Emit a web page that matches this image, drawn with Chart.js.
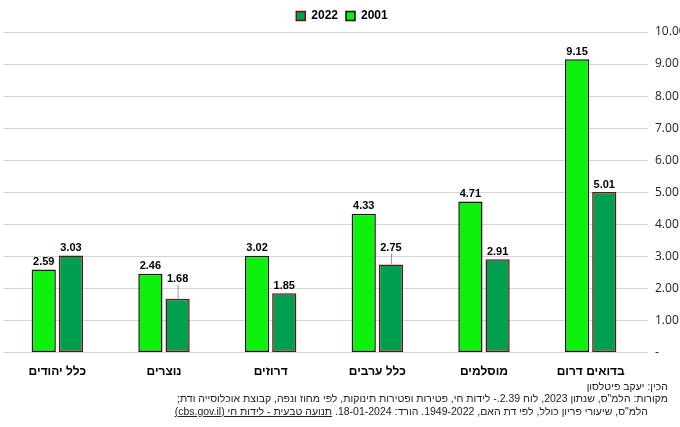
<!DOCTYPE html>
<html>
<head>
<meta charset="utf-8">
<script src="https://cdn.jsdelivr.net/npm/chart.js@4.4.1/dist/chart.umd.min.js"></script>
<style>
    html, body { margin: 0; padding: 0; background: #fff; }
    #wrap { position: relative; width: 680px; height: 427px; }
    #chart { position: absolute; left: 0; top: 0; }
    .note {
        position: absolute; direction: rtl; white-space: nowrap;
        font-family: "Liberation Sans", Arial, sans-serif; font-size: 10.5px; color: #222;
    }
    .note a { color: #222; text-decoration: underline; }
</style>
</head>
<body>
<div id="wrap">
    <canvas id="chart" width="680" height="427"></canvas>
    <div class="note" style="right:12px; top:380px;">הכין: יעקב פיטלסון</div>
    <div class="note" style="right:12px; top:392px;">מקורות: הלמ"ס, שנתון 2023, לוח 2.39.- לידות חי, פטירות ופטירות תינוקות, לפי מחוז ונפה, קבוצת אוכלוסייה ודת;</div>
    <div class="note" style="right:32px; top:405px;">הלמ"ס, שיעורי פריון כולל, לפי דת האם, 1949-2022. הורד: 18-01-2024. <a>תנועה טבעית - לידות חי (cbs.gov.il)</a></div>
</div>
<script>
const categories = ['כלל יהודים', 'נוצרים', 'דרוזים', 'כלל ערבים', 'מוסלמים', 'בדואים דרום'];
const values2001 = [2.59, 2.46, 3.02, 4.33, 4.71, 9.15];
const values2022 = [3.03, 1.68, 1.85, 2.75, 2.91, 5.01];
const yTicks = [0, 1, 2, 3, 4, 5, 6, 7, 8, 9, 10];

// labels that sit higher than their bar, with a short leader line
const liftedLabels = { '1-1': 12, '1-3': 9 };

const valueLabels = {
    id: 'valueLabels',
    afterDatasetsDraw(chart) {
        const ctx = chart.ctx;
        ctx.save();
        ctx.font = 'bold 11px "Liberation Sans", Arial, sans-serif';
        ctx.fillStyle = '#000';
        ctx.textAlign = 'center';
        ctx.textBaseline = 'bottom';
        chart.data.datasets.forEach((ds, di) => {
            chart.getDatasetMeta(di).data.forEach((bar, i) => {
                const lift = liftedLabels[di + '-' + i] || 0;
                if (lift) {
                    ctx.strokeStyle = '#999';
                    ctx.lineWidth = 1;
                    ctx.beginPath();
                    ctx.moveTo(bar.x + 0.5, bar.y);
                    ctx.lineTo(bar.x + 0.5, bar.y - lift - 2);
                    ctx.stroke();
                }
                ctx.fillText(ds.data[i].toFixed(2), bar.x, bar.y - 2 - lift);
            });
        });
        ctx.restore();
    }
};

new Chart(document.getElementById('chart'), {
    type: 'bar',
    data: {
        labels: categories,
        datasets: [
            {
                label: '2001',
                data: values2001,
                backgroundColor: '#0df20d',
                borderColor: '#111',
                borderWidth: 1.5,
                borderSkipped: false,
                categoryPercentage: 0.51,
                barPercentage: 0.89
            },
            {
                label: '2022',
                data: values2022,
                backgroundColor: '#009e4f',
                borderColor: '#6b0f0f',
                borderWidth: 1.5,
                borderSkipped: false,
                categoryPercentage: 0.51,
                barPercentage: 0.89
            }
        ]
    },
    options: {
        responsive: false,
        animation: false,
        layout: { padding: { left: 4, right: 0, top: 2, bottom: 44 } },
        plugins: {
            legend: {
                reverse: true,
                labels: {
                    boxWidth: 9,
                    boxHeight: 9,
                    padding: 8,
                    color: '#000',
                    font: { family: '"Liberation Sans", Arial, sans-serif', size: 12, weight: 'bold' }
                }
            },
            tooltip: { enabled: false }
        },
        scales: {
            x: {
                grid: { display: false },
                border: { display: false },
                ticks: {
                    color: '#000',
                    padding: 4,
                    font: { family: '"Liberation Sans", Arial, sans-serif', size: 12, weight: 'bold' }
                }
            },
            y: {
                position: 'right',
                min: 0,
                max: 10,
                afterBuildTicks: axis => { axis.ticks = yTicks.map(v => ({ value: v })); },
                // labels run up to the page edge, as in the source image
                afterFit: axis => { axis.width = 36; },
                grid: { color: '#d4d4d4', lineWidth: 1, tickLength: 4 },
                border: { display: false },
                ticks: {
                    color: '#222',
                    padding: 7,
                    font: { family: '"Open Sans", sans-serif', size: 12 },
                    callback: v => v === 0 ? '-' : v.toFixed(2)
                }
            }
        }
    },
    plugins: [valueLabels]
});
</script>
</body>
</html>
